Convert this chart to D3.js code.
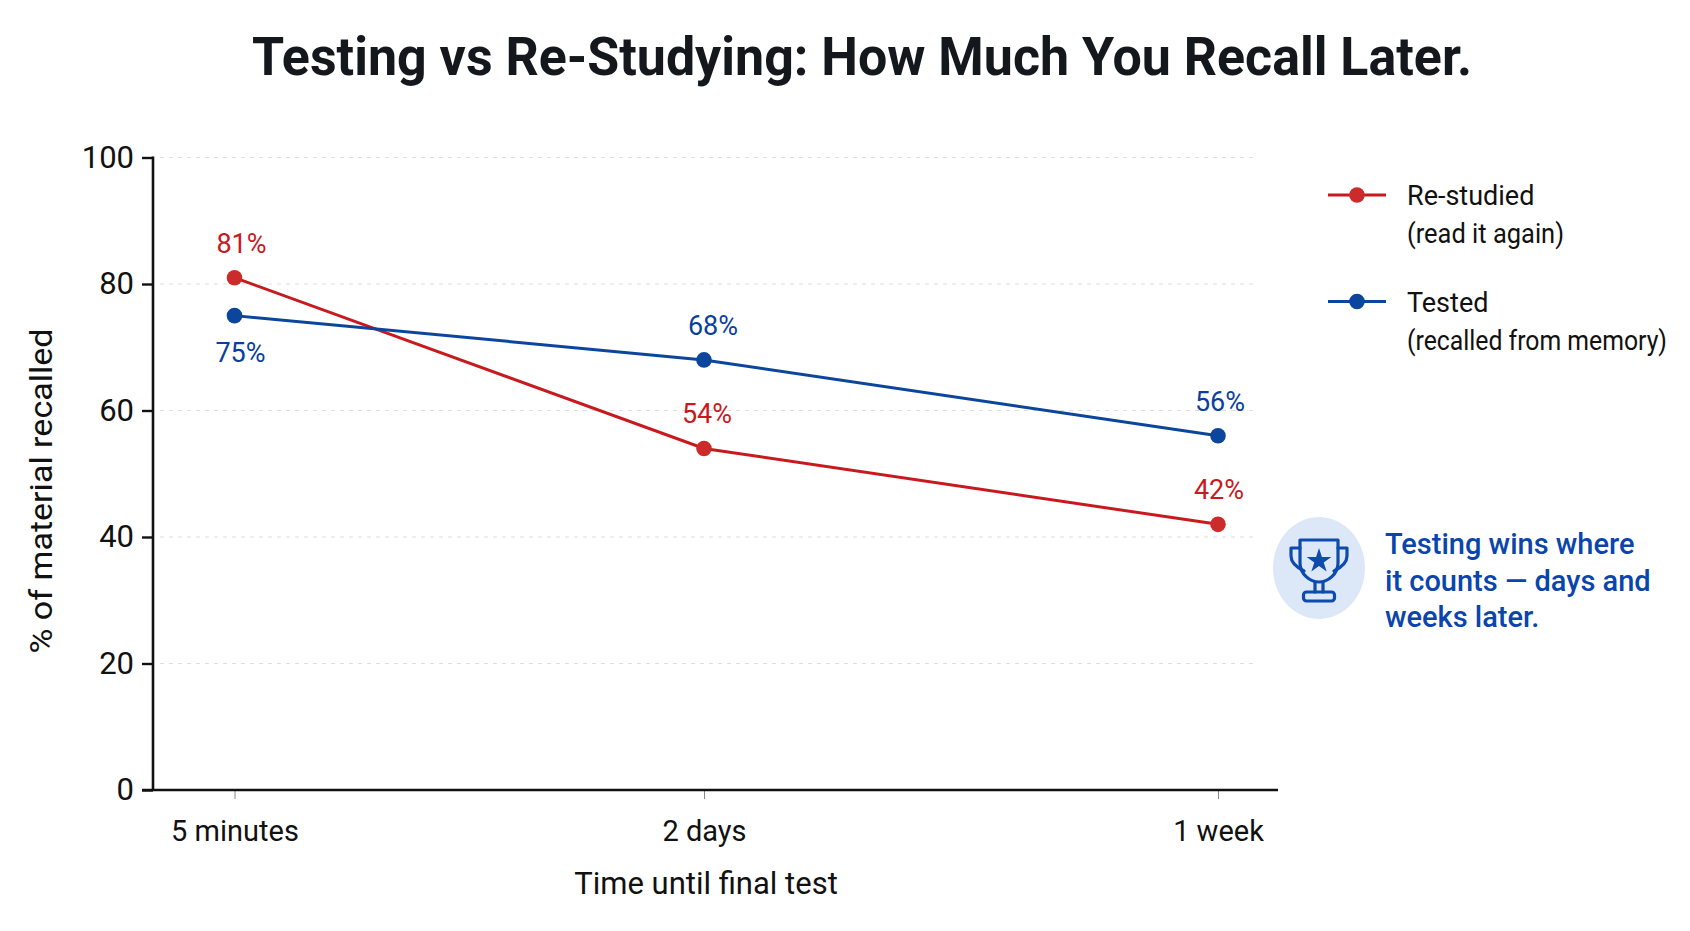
<!DOCTYPE html>
<html>
<head>
<meta charset="utf-8">
<script src="https://cdn.jsdelivr.net/npm/d3@7/dist/d3.min.js"></script>
<style>
  html, body { margin: 0; padding: 0; background: #fff; }
  svg { display: block; }
  text { font-family: Roboto, "Noto Sans", sans-serif; }
</style>
</head>
<body>
<svg id="chart" width="1690" height="931"></svg>
<script>
const categories = ["5 minutes", "2 days", "1 week"];
const yTicks = [0, 20, 40, 60, 80, 100];
const reStudied = [81, 54, 42];
const tested = [75, 68, 56];
const legendEntries = [
  ["Re-studied", "(read it again)"],
  ["Tested", "(recalled from memory)"]
];
const noteLines = ["Testing wins where", "it counts \u2014 days and", "weeks later."];

const RED = "#c8191e", RED_DOT = "#cc2b2b", BLUE = "#0b459c", NOTE_BLUE = "#0a45ad", INK = "#111";
const FONT = "Roboto, 'Noto Sans', sans-serif";

const svg = d3.select("#chart");
const x = d3.scaleOrdinal().domain(categories).range([234.5, 704, 1218]);
const y = d3.scaleLinear().domain([0, 100]).range([790, 157.5]);

svg.append("text").attr("x", 862).attr("y", 75).attr("text-anchor", "middle")
  .attr("font-size", 54).attr("font-weight", 700).attr("fill", "#14181d")
  .attr("textLength", 1220).attr("lengthAdjust", "spacingAndGlyphs")
  .text("Testing vs Re-Studying: How Much You Recall Later.");

// Dashed horizontal gridlines above the baseline
svg.append("g").selectAll("line").data(yTicks.filter(d => d > 0)).join("line")
  .attr("x1", 160).attr("x2", 1258)
  .attr("y1", d => y(d)).attr("y2", d => y(d))
  .attr("stroke", "#dedede").attr("stroke-width", 1.2).attr("stroke-dasharray", "4 5");

// Y axis
const yAxis = svg.append("g").attr("transform", "translate(153,0)")
  .call(d3.axisLeft(y).tickValues(yTicks).tickSize(11).tickPadding(8));
yAxis.select(".domain").remove();
yAxis.selectAll("line").attr("stroke", INK).attr("stroke-width", 2.4);
yAxis.selectAll("text").attr("font-size", 31).attr("fill", INK).attr("font-family", FONT);
svg.append("line").attr("x1", 153).attr("x2", 153).attr("y1", y(100) - 1).attr("y2", y(0))
  .attr("stroke", INK).attr("stroke-width", 2.6);

// X axis
const xAxis = svg.append("g").attr("transform", "translate(0,790)")
  .call(d3.axisBottom(x).tickSize(9).tickPadding(21));
xAxis.select(".domain").remove();
xAxis.selectAll("line").attr("stroke", "#888").attr("stroke-width", 1);
xAxis.selectAll("text").attr("font-size", 29).attr("fill", INK).attr("font-family", FONT);
svg.append("line").attr("x1", 142).attr("x2", 1278).attr("y1", 790).attr("y2", 790)
  .attr("stroke", INK).attr("stroke-width", 2.6);

svg.append("text").attr("x", 706).attr("y", 894).attr("text-anchor", "middle")
  .attr("font-size", 31).attr("fill", INK).text("Time until final test");
svg.append("text").attr("transform", "translate(52,491) rotate(-90)").attr("text-anchor", "middle")
  .attr("font-size", 31).attr("fill", INK)
  .attr("textLength", 325).attr("lengthAdjust", "spacingAndGlyphs")
  .text("% of material recalled");

// Series: the early "Tested" label sits under its point so it clears the red line
const line = d3.line().x((d, i) => x(categories[i])).y(d => y(d));
const series = [
  { values: reStudied, stroke: RED, dot: RED_DOT, label: RED, below: [false, false, false], dx: [7, 3, 1] },
  { values: tested, stroke: BLUE, dot: BLUE, label: "#0b3f9f", below: [true, false, false], dx: [6, 9, 2] }
];
series.forEach(s => {
  svg.append("path").datum(s.values).attr("d", line)
    .attr("fill", "none").attr("stroke", s.stroke).attr("stroke-width", 3);
  svg.append("g").selectAll("circle").data(s.values).join("circle")
    .attr("cx", (d, i) => x(categories[i])).attr("cy", d => y(d)).attr("r", 7.8)
    .attr("fill", s.dot);
  svg.append("g").selectAll("text").data(s.values).join("text")
    .attr("x", (d, i) => x(categories[i]) + s.dx[i])
    .attr("y", (d, i) => y(d) + (s.below[i] ? 46 : -25))
    .attr("text-anchor", "middle").attr("font-size", 27).attr("fill", s.label)
    .text(d => d + "%");
});

// Legend: the second line of each entry is fitted to a set width
const legendSubWidths = [157, 260];
const legend = svg.append("g").selectAll("g").data(legendEntries).join("g")
  .attr("transform", (d, i) => `translate(0,${i * 106.5})`);
legend.append("line").attr("x1", 1328).attr("x2", 1386).attr("y1", 195).attr("y2", 195)
  .attr("stroke", (d, i) => i ? BLUE : RED).attr("stroke-width", 3);
legend.append("circle").attr("cx", 1357).attr("cy", 195).attr("r", 7.8)
  .attr("fill", (d, i) => i ? BLUE : RED_DOT);
legend.append("text").attr("x", 1407).attr("y", 205).attr("font-size", 27).attr("fill", INK)
  .text(d => d[0]);
legend.append("text").attr("x", 1407).attr("y", 243).attr("font-size", 27).attr("fill", INK)
  .attr("textLength", (d, i) => legendSubWidths[i]).attr("lengthAdjust", "spacingAndGlyphs")
  .text(d => d[1]);

// Trophy badge
const badge = svg.append("g").attr("transform", "translate(1319,568)");
badge.append("ellipse").attr("rx", 46).attr("ry", 51).attr("fill", "#dce8f8");
const icon = badge.append("g").attr("fill", "none").attr("stroke", "#0f4bad")
  .attr("stroke-width", 3.2).attr("stroke-linejoin", "round").attr("stroke-linecap", "round");
icon.append("path").attr("d", "M-19,-28 H19 V-5 C19,6 9,14 0,14 C-9,14 -19,6 -19,-5 Z");
icon.append("path").attr("d", "M-19,-20 H-28 V-12 C-28,-6 -23,-1 -15,3");
icon.append("path").attr("d", "M19,-20 H28 V-12 C28,-6 23,-1 15,3");
icon.append("path").attr("d", "M-4,14 V24 M4,14 V24");
icon.append("rect").attr("x", -15.5).attr("y", 24).attr("width", 31).attr("height", 9).attr("rx", 3);
badge.append("path").attr("transform", "translate(0,-7)")
  .attr("d", d3.symbol(d3.symbolStar, 190)).attr("fill", "#0f4bad");

// Callout text
svg.append("g").selectAll("text").data(noteLines).join("text")
  .attr("x", 1385).attr("y", (d, i) => 554 + i * 36.5)
  .attr("font-size", 29).attr("font-weight", 500).attr("fill", NOTE_BLUE)
  .text(d => d);
</script>
</body>
</html>
